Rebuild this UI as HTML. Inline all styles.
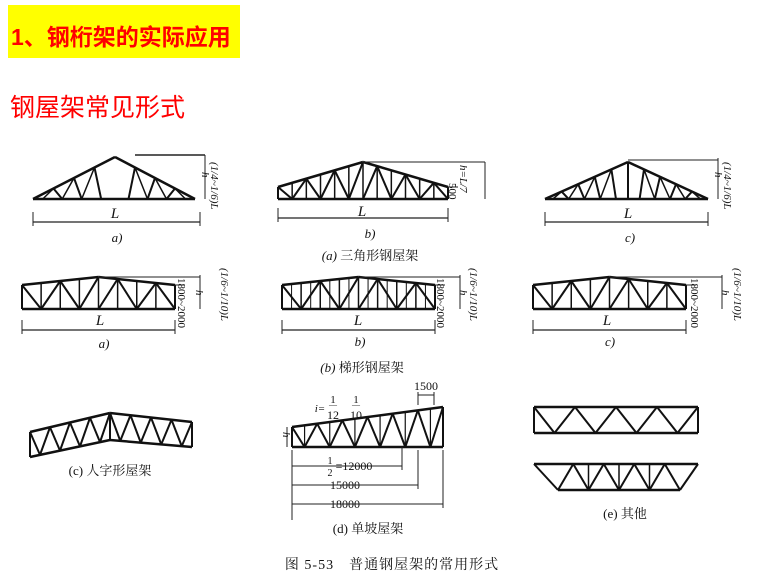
<!DOCTYPE html>
<html><head><meta charset="utf-8"><style>
html,body{margin:0;padding:0;background:#fff;width:780px;height:585px;overflow:hidden}
svg{position:absolute;left:0;top:0}
.h1{position:absolute;left:8px;top:5px;width:232px;height:53px;background:#ffff00;}
.h1 span{position:absolute;left:3px;top:13px;font:bold 23px "Liberation Sans","Noto Sans CJK SC",sans-serif;color:#ff0000;white-space:nowrap}
.h2{position:absolute;left:10px;top:88px;font:25px "Liberation Sans","Noto Sans CJK SC",sans-serif;color:#ff0000;white-space:nowrap}
</style></head><body>
<div class="h1"><span>1、钢桁架的实际应用</span></div>
<div class="h2">钢屋架常见形式</div>
<svg id="s" width="780" height="585" xmlns="http://www.w3.org/2000/svg" font-family="Liberation Serif, Noto Serif CJK SC, serif" fill="#111">
<g font-style="italic" font-size="15" text-anchor="middle">
<text x="115" y="218">L</text><text x="117" y="242" font-size="13">a)</text>
<text x="362" y="216">L</text><text x="370" y="238" font-size="13">b)</text>
<text x="628" y="218">L</text><text x="630" y="242" font-size="13">c)</text>
<text x="100" y="325">L</text><text x="104" y="348" font-size="13">a)</text>
<text x="358" y="325">L</text><text x="360" y="346" font-size="13">b)</text>
<text x="607" y="325">L</text><text x="610" y="346" font-size="13">c)</text>
</g>
<g font-size="13" text-anchor="middle">
<text x="370" y="260"><tspan font-style="italic">(a)</tspan> 三角形钢屋架</text>
<text x="362" y="372"><tspan font-style="italic">(b)</tspan> 梯形钢屋架</text>
<text x="110" y="475">(c) 人字形屋架</text>
<text x="368" y="533">(d) 单坡屋架</text>
<text x="625" y="518">(e) 其他</text>
<text x="392" y="569" font-size="14" letter-spacing="1">图 5-53　普通钢屋架的常用形式</text>
<text x="426" y="390" font-size="12">1500</text>
<text x="354" y="470" font-size="12">=12000</text>
<text x="345" y="489" font-size="12">15000</text>
<text x="345" y="508" font-size="12">18000</text>
<text x="333" y="403" font-size="11">1</text><text x="356" y="403" font-size="11">1</text>
<text x="333" y="419" font-size="12">12</text><text x="356" y="419" font-size="12">10</text>
<text x="320" y="412" font-size="11" font-style="italic">i=</text>
<text x="333" y="407" font-size="8">—</text><text x="356" y="407" font-size="8">—</text>
<text x="330" y="464" font-size="10">1</text><text x="330" y="476" font-size="10">2</text>
</g>
<g font-size="11" font-style="italic">
<text transform="translate(211,162) rotate(90)">(1/4~1/6)L</text>
<text transform="translate(724,162) rotate(90)">(1/4~1/6)L</text>
<text transform="translate(460,165) rotate(90)">h=L/7</text>
<text transform="translate(221,268) rotate(90)">(1/6~1/10)L</text>
<text transform="translate(470,268) rotate(90)">(1/6~1/10)L</text>
<text transform="translate(734,268) rotate(90)">(1/6~1/10)L</text>
<text transform="translate(202,172) rotate(90)">h</text>
<text transform="translate(715,172) rotate(90)">h</text>
<text transform="translate(196,290) rotate(90)">h</text>
<text transform="translate(460,290) rotate(90)">h</text>
<text transform="translate(722,290) rotate(90)">h</text>
<text transform="translate(283,432) rotate(90)">h</text>
</g>
<g font-size="11">
<text transform="translate(449,183) rotate(90)">500</text>
<text transform="translate(178,278) rotate(90)">1800~2000</text>
<text transform="translate(437,278) rotate(90)">1800~2000</text>
<text transform="translate(691,278) rotate(90)">1800~2000</text>
</g>
<g id="g" stroke="#111" fill="none" stroke-width="2"></g>
<g id="t" stroke="#222" fill="none" stroke-width="1"></g>
</svg>
<script>
var g=document.getElementById('g'),t=document.getElementById('t');
function L(a,b,c,d,w,p){var e=document.createElementNS('http://www.w3.org/2000/svg','line');e.setAttribute('x1',a);e.setAttribute('y1',b);e.setAttribute('x2',c);e.setAttribute('y2',d);if(w)e.setAttribute('stroke-width',w);(p||g).appendChild(e);}
function lerp(a,b,k){return a+(b-a)*k;}
function tri(x0,x1,ax,ay,yb,n,center){
 L(x0,yb,x1,yb,2.5);L(x0,yb,ax,ay,2.5);L(ax,ay,x1,yb,2.5);
 if(center)L(ax,ay,ax,yb);
 for(var s=0;s<2;s++){var xs=s?x1:x0;
  for(var i=1;i<n;i++){var k=i/n,tx=lerp(xs,ax,k),ty=lerp(yb,ay,k);
   var bx=lerp(xs,ax,(i+0.5)/n*0.95);L(tx,ty,bx,yb);
   var bx2=lerp(xs,ax,(i-0.5)/n*0.95);L(tx,ty,bx2,yb,1.5);}
 }}
tri(33,195,115,157,199,4,false);
tri(545,708,628,162,199,5,true);
function trap(x0,x1,ye,ya,yb,n,sub){
 var xm=(x0+x1)/2;function ty(x){return x<=xm?lerp(ye,ya,(x-x0)/(xm-x0)):lerp(ya,ye,(x-xm)/(x1-xm));}
 L(x0,yb,x1,yb,2.5);L(x0,ye,xm,ya,2.5);L(xm,ya,x1,ye,2.5);L(x0,ye,x0,yb,2);L(x1,ye,x1,yb,2);
 var dx=(x1-x0)/n;
 for(var i=0;i<n;i++){var a=x0+i*dx,b=a+dx;
  if(i<n/2){ if(i%2==0)L(a,ty(a),b,yb);else L(a,yb,b,ty(b));}
  else{ if(i%2==0)L(a,yb,b,ty(b));else L(a,ty(a),b,yb);}
  if(i>0)L(a,ty(a),a,yb,1.5);
  if(sub){var c=a+dx/2;L(c,ty(c),c,yb,1);}
 }}
trap(278,448,187,162,199,12,false);
trap(22,175,285,277,309,8,false);
trap(282,435,285,277,309,8,true);
trap(533,686,285,277,309,8,false);
(function(){var p=[[30,432,457],[110,413,440],[192,422,447]];
 L(30,432,110,413,2.5);L(110,413,192,422,2.5);L(30,457,110,440,2.5);L(110,440,192,447,2.5);
 L(30,432,30,457);L(110,413,110,440);L(192,422,192,447);
 for(var s=0;s<2;s++){var A=p[s],B=p[s+1];for(var i=0;i<4;i++){var k0=i/4,k1=(i+1)/4,km=(i+0.5)/4;
  var xa=lerp(A[0],B[0],k0),xb=lerp(A[0],B[0],k1),xm=lerp(A[0],B[0],km);
  L(xa,lerp(A[1],B[1],k0),xm,lerp(A[2],B[2],km));L(xm,lerp(A[2],B[2],km),xb,lerp(A[1],B[1],k1));}}})();
(function(){var x0=292,x1=443,yb=447;function ty(x){return lerp(427,407,(x-x0)/(x1-x0));}
 L(x0,yb,x1,yb,2.5);L(x0,ty(x0),x1,ty(x1),2.5);L(x0,ty(x0),x0,yb);L(x1,ty(x1),x1,yb);
 var n=6,dx=(x1-x0)/n;
 for(var i=0;i<n;i++){var a=x0+i*dx,b=a+dx,m=a+dx/2;L(a,ty(a),m,yb);L(m,yb,b,ty(b));L(m,ty(m),m,yb,1.2);}
 L(287,427,287,447,1,t);L(292,450,292,520,1,t);
 L(292,466,402,466,1,t);L(402,447,402,470,1,t);
 L(292,485,418,485,1,t);L(418,450,418,489,1,t);
 L(292,504,443,504,1,t);L(443,450,443,508,1,t);
 L(418,395,434,395,1,t);L(418,392,418,405,1,t);L(434,392,434,405,1,t);
})();
(function(){L(534,407,698,407,2.5);L(534,433,698,433,2.5);L(534,407,534,433);L(698,407,698,433);
 var xs=[534,575,616,657,698];for(var i=0;i<4;i++){var m=(xs[i]+xs[i+1])/2;L(xs[i],407,m,433);L(m,433,xs[i+1],407);}
 L(534,464,698,464,2.5);L(558,490,680,490,2.5);L(534,464,558,490);L(698,464,680,490);
 var bx=[558,588.5,619,649.5,680];
 for(var i=0;i<4;i++){var m=(bx[i]+bx[i+1])/2;L(bx[i],490,m,464);L(m,464,bx[i+1],490);if(i>0)L(bx[i],464,bx[i],490,1.5);}
})();
[[33,222,200],[278,218,448],[545,222,708],[22,330,175],[282,330,435],[533,330,686]].forEach(function(d){L(d[0],d[1],d[2],d[1],1.2,t);L(d[0],d[1]-10,d[0],d[1]+4,1,t);L(d[2],d[1]-10,d[2],d[1]+4,1,t);});
[[205,155,199],[718,158,199],[485,162,199],[200,275,309],[460,275,309],[722,275,309]].forEach(function(d){L(d[0],d[1],d[0],d[2],1,t);});
L(135,155,205,155,1.5,t);L(628,160,718,160,1,t);L(362,162,485,162,1,t);L(448,187,458,187,1,t);
L(98,277,200,277,1,t);L(360,277,460,277,1,t);L(610,277,722,277,1,t);
L(175,285,185,285,1,t);L(435,285,445,285,1,t);L(686,285,696,285,1,t);
</script>
</body></html>
